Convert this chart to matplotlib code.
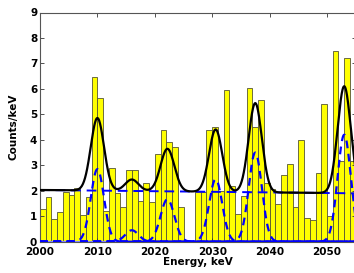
import numpy as np
import matplotlib
matplotlib.use('Agg')
from matplotlib import pyplot as plt

# histogram, 1 keV bins starting at 2000 keV
bin_start = 2000
counts = [1.3, 1.75, 0.9, 1.15, 1.95, 1.85, 2.1, 1.05, 1.75, 6.45,
          5.65, 1.2, 2.9, 1.9, 1.35, 2.8, 2.8, 1.6, 2.3, 1.55,
          3.45, 4.4, 3.9, 3.7, 1.35, 0.0, 0.0, 1.95, 1.95, 4.4,
          4.5, 2.0, 5.95, 2.2, 1.1, 1.8, 6.05, 4.5, 5.55, 2.3,
          2.05, 1.5, 2.6, 3.05, 1.35, 4.0, 0.95, 0.85, 2.7, 5.4,
          1.0, 7.5, 3.15, 7.2, 3.15]

# fitted peaks
peak_centre = [2010.0, 2016.0, 2022.2, 2030.6, 2037.5, 2053.0]
peak_height = [2.85, 0.45, 1.67, 2.45, 3.5, 4.2]
peak_sigma = [1.15, 1.15, 1.2, 1.15, 1.15, 1.15]
# linear background at both ends
bg_ends = [2.03, 1.9]

xlim = [2000, 2055]
yticks = list(range(0, 10))
xticks = list(range(2000, 2051, 10))

edges = bin_start + np.arange(len(counts))
e = np.linspace(xlim[0], xlim[1], 1200)
bg = np.interp(e, xlim, bg_ends)

fig = plt.figure(figsize=(3.54, 2.73), dpi=100)
ax = fig.add_axes([40 / 354, 31.3 / 273, 315.7 / 354, 229.2 / 273])

ax.bar(edges, counts, width=1.0, align='edge', color='#ffff00',
       edgecolor='#555533', linewidth=0.6, zorder=1)

ax.axhline(0, color='#8888ff', lw=1.6, zorder=2)
ax.plot(e, bg, color='#0000ff', lw=1.4, dashes=(5, 3), zorder=3)
total = bg.copy()
for c, h, s in zip(peak_centre, peak_height, peak_sigma):
    g = h * np.exp(-0.5 * ((e - c) / s) ** 2)
    total += g
    ax.plot(e, g, color='#0000ff', lw=1.6, dashes=(3.5, 2.5), zorder=3)
ax.plot(e, total, color='black', lw=1.6, zorder=4)

ax.set_xlim(xlim)
ax.set_ylim(0, 9)
ax.set_xticks(xticks)
ax.set_yticks(yticks)
ax.tick_params(direction='in', length=3, width=0.6, top=True, right=True,
               labelsize=7.5, pad=2, colors='#333333', labelcolor='black')
ax.tick_params(axis='x', pad=4)
for lab in ax.get_xticklabels() + ax.get_yticklabels():
    lab.set_fontweight('bold')
for sp in ax.spines.values():
    sp.set_color('#555555')
    sp.set_linewidth(0.8)

ax.set_xlabel('Energy, keV', fontsize=7.5, fontweight='bold', labelpad=0)
ax.set_ylabel('Counts/keV', fontsize=7.5, fontweight='bold', labelpad=8)

fig.savefig('out.png', dpi=100)
